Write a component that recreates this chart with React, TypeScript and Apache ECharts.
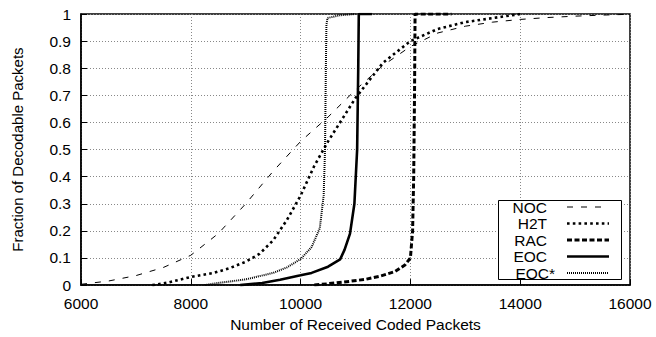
import React, { useEffect, useRef } from "react";
import * as echarts from "echarts";

const xTicks = [6000, 8000, 10000, 12000, 14000, 16000];

const nocX = [6000, 6500, 7000, 7500, 8000, 8500, 9000, 9500, 10000, 10500, 11000, 11500, 12000, 12500, 13000, 13500, 14000, 14500, 15000, 15500, 16000];
const nocY = [0.003, 0.015, 0.035, 0.065, 0.11, 0.19, 0.3, 0.42, 0.53, 0.62, 0.72, 0.81, 0.88, 0.93, 0.955, 0.97, 0.98, 0.987, 0.992, 0.996, 0.999];

const h2tX = [7300, 7600, 7800, 8000, 8400, 8700, 9000, 9250, 9500, 9750, 10000, 10250, 10500, 11000, 11500, 12000, 12500, 13000, 13500, 14000];
const h2tY = [0, 0.01, 0.02, 0.03, 0.044, 0.062, 0.086, 0.115, 0.165, 0.24, 0.33, 0.44, 0.53, 0.69, 0.82, 0.9, 0.945, 0.97, 0.985, 1.0];

const racX = [10250, 10500, 10900, 11200, 11450, 11720, 11900, 12000, 12040, 12060, 12075, 12085, 12750];
const racY = [0, 0.005, 0.014, 0.022, 0.033, 0.05, 0.074, 0.1, 0.2, 0.4, 0.7, 1.0, 1.0];

const eocX = [8900, 9300, 9625, 10000, 10200, 10500, 10720, 10800, 10900, 10980, 11030, 11050, 11060, 11300];
const eocY = [0, 0.008, 0.02, 0.036, 0.045, 0.068, 0.095, 0.13, 0.19, 0.3, 0.5, 0.8, 1.0, 1.0];

const eocStarX = [8250, 8500, 9000, 9500, 9750, 10000, 10200, 10350, 10420, 10445, 10460, 10470, 10490, 10700, 11000];
const eocStarY = [0, 0.008, 0.021, 0.045, 0.065, 0.096, 0.14, 0.21, 0.33, 0.5, 0.8, 0.96, 0.985, 0.995, 1.0];

const seriesNames = ["NOC", "H2T", "RAC", "EOC", "EOC*"];

const FONT = "'Liberation Sans', Arial, Helvetica, sans-serif";

function pairs(xs: number[], ys: number[]) {
  return xs.map((x, i) => [x, ys[i]]);
}

const styles: Record<string, { width: number; type: any; color: string }> = {
  NOC: { width: 1, type: [6, 8], color: "#000" },
  H2T: { width: 2.6, type: [2.6, 3.2], color: "#000" },
  RAC: { width: 3, type: [5, 2.5], color: "#000" },
  EOC: { width: 2.6, type: "solid", color: "#000" },
  "EOC*": { width: 2, type: [1, 1], color: "#000" },
};

export default function App() {
  const ref = useRef<HTMLDivElement>(null);
  useEffect(() => {
    if (!ref.current) return;
    const chart = echarts.init(ref.current, undefined, { renderer: "svg" });
    const dataMap: Record<string, number[][]> = {
      NOC: pairs(nocX, nocY),
      H2T: pairs(h2tX, h2tY),
      RAC: pairs(racX, racY),
      EOC: pairs(eocX, eocY),
      "EOC*": pairs(eocStarX, eocStarY),
    };
    const legendTop = 207;
    const legendStep = 16.5;
    const legendGraphics: any[] = [
      {
        type: "rect",
        shape: { x: 498.5, y: 200.5, width: 123, height: 79 },
        style: { fill: "#fff", stroke: "#000", lineWidth: 1 },
        z: 100,
      },
    ];
    seriesNames.forEach((n, i) => {
      const y = legendTop + i * legendStep;
      const s = styles[n];
      legendGraphics.push({
        type: "text",
        x: n === "EOC*" ? 555 : 547,
        y,
        z: 101,
        style: {
          text: n,
          font: `15.5px ${FONT}`,
          fill: "#000",
          align: "right",
          verticalAlign: "middle",
        },
      });
      legendGraphics.push({
        type: "line",
        z: 101,
        shape: { x1: 567, y1: y, x2: 609, y2: y },
        style: {
          stroke: "#000",
          lineWidth: s.width,
          lineDash: s.type === "solid" ? null : s.type,
        },
      });
    });
    chart.setOption({
      animation: false,
      backgroundColor: "#fff",
      textStyle: { fontFamily: FONT },
      grid: {
        left: 81,
        right: 26,
        top: 14,
        bottom: 50,
        show: true,
        borderColor: "#000",
        borderWidth: 1.5,
        backgroundColor: "transparent",
      },
      xAxis: {
        type: "value",
        min: xTicks[0],
        max: xTicks[xTicks.length - 1],
        interval: 2000,
        name: "Number of Received Coded Packets",
        nameLocation: "middle",
        nameGap: 30,
        nameTextStyle: { fontSize: 15.5, color: "#000", fontFamily: FONT },
        axisLine: { show: true, lineStyle: { color: "#000", width: 1.5 } },
        axisTick: { show: true, inside: true, length: 6, lineStyle: { color: "#000" } },
        axisLabel: {
          fontSize: 15.5,
          color: "#000",
          margin: 10,
          fontFamily: FONT,
          formatter: (v: number) => String(v),
        },
        splitLine: { show: true, lineStyle: { color: "#888", type: [1, 2], width: 1 } },
      },
      yAxis: {
        type: "value",
        min: 0,
        max: 1,
        interval: 0.1,
        name: "Fraction of Decodable Packets",
        nameLocation: "middle",
        nameGap: 56,
        nameTextStyle: { fontSize: 15, color: "#000", fontFamily: FONT },
        axisLine: { show: true, lineStyle: { color: "#000", width: 1.5 } },
        axisTick: { show: true, inside: true, length: 6, lineStyle: { color: "#000" } },
        axisLabel: {
          fontSize: 15.5,
          color: "#000",
          margin: 10,
          fontFamily: FONT,
          formatter: (v: number) => String(Math.round(v * 10) / 10),
        },
        splitLine: { show: true, lineStyle: { color: "#888", type: [1, 2], width: 1 } },
      },
      series: seriesNames.map((n) => ({
        name: n,
        type: "line",
        data: dataMap[n],
        showSymbol: false,
        symbol: "none",
        lineStyle: {
          color: styles[n].color,
          width: styles[n].width,
          type: styles[n].type,
          cap: "butt",
        },
        z: 5,
      })),
      graphic: legendGraphics,
    });
    return () => chart.dispose();
  }, []);
  return (
    <div
      ref={ref}
      style={{ position: "fixed", left: 0, top: 0, width: 656, height: 337 }}
    />
  );
}
